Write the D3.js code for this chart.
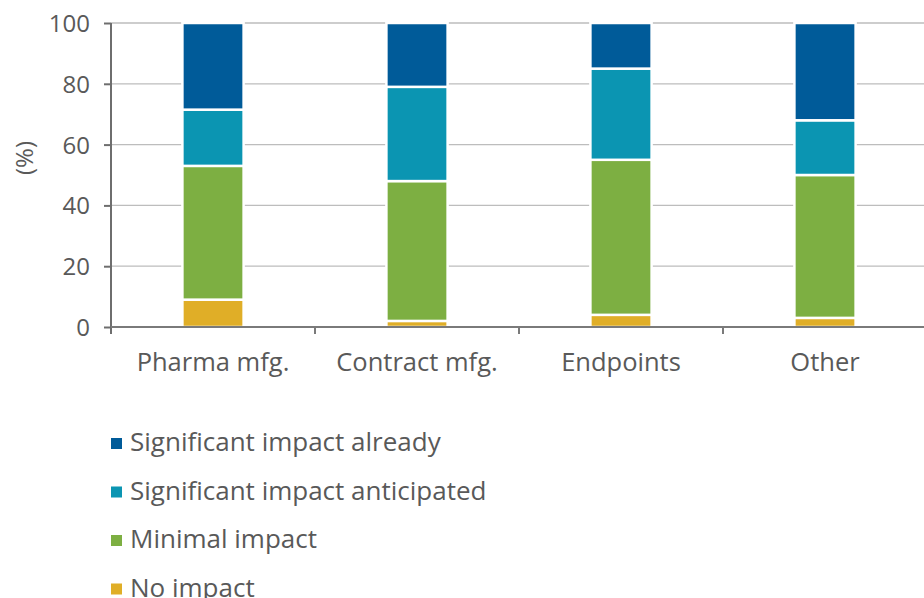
<!DOCTYPE html>
<html><head><meta charset="utf-8">
<script src="https://cdn.jsdelivr.net/npm/d3@7"></script>
<style>body{margin:0;background:#fff}svg{display:block}text{font-family:"Open Sans",sans-serif;fill:#595959}</style>
</head><body>
<svg id="c" width="924" height="598"></svg>
<script>
const categories = ["Pharma mfg.", "Contract mfg.", "Endpoints", "Other"];
const seriesNames = ["No impact", "Minimal impact", "Significant impact anticipated", "Significant impact already"];
const noImpact = [9, 2, 4, 3];
const minimalImpact = [44, 46, 51, 47];
const impactAnticipated = [18.5, 31, 30, 18];
const impactAlready = [28.5, 21, 15, 32];
const colors = ["#e0ae27", "#7daf42", "#0b95b2", "#005b99"];
const yTicks = [0, 20, 40, 60, 80, 100];

const svg = d3.select("#c");
const L = 111, R = 927, T = 23, B = 327;
const x = d3.scaleBand().domain(categories).range([L, R]).paddingInner(0.7).paddingOuter(0.35);
const y = d3.scaleLinear().domain([0, 100]).range([B, T]);

const rows = categories.map((c, i) => ({cat: c, s0: noImpact[i], s1: minimalImpact[i], s2: impactAnticipated[i], s3: impactAlready[i]}));
const stack = d3.stack().keys(["s0", "s1", "s2", "s3"])(rows);

// gridlines
svg.append("g").selectAll("line").data(yTicks.filter(d => d > 0)).join("line")
  .attr("x1", L).attr("x2", R).attr("y1", d => y(d)).attr("y2", d => y(d))
  .attr("stroke", "#bdbdbd").attr("stroke-width", 1.3);

// bars
svg.append("g").selectAll("g").data(stack).join("g").attr("fill", (d, i) => colors[i])
  .selectAll("rect").data(d => d).join("rect")
  .attr("x", d => x(d.data.cat)).attr("width", x.bandwidth())
  .attr("y", d => y(d[1])).attr("height", d => y(d[0]) - y(d[1]))
  .attr("stroke", "#fff").attr("stroke-width", 2.5);

// y axis
const ya = svg.append("g").attr("transform", `translate(${L},0)`)
  .call(d3.axisLeft(y).tickValues(yTicks).tickSize(7).tickPadding(14));
ya.select(".domain").attr("stroke", "#6e6e6e").attr("stroke-width", 2).attr("d", `M0,${T}V${B+7}`);
ya.selectAll(".tick line").attr("stroke", "#6e6e6e").attr("stroke-width", 2);
ya.selectAll(".tick text").style("font-size", "24px").attr("fill", "#595959").attr("dy", "0.35em");

// x axis
const xa = svg.append("g").attr("transform", `translate(0,${B})`);
xa.append("line").attr("x1", L).attr("x2", R).attr("stroke", "#7a7a7a").attr("stroke-width", 2);
const bounds = categories.slice(1).map(c => x(c) - x.step() * 0.35);
xa.selectAll(".tk").data(bounds).join("line").attr("class", "tk")
  .attr("x1", d => d).attr("x2", d => d).attr("y1", 0).attr("y2", 7)
  .attr("stroke", "#7a7a7a").attr("stroke-width", 2);
xa.selectAll("text").data(categories).join("text")
  .attr("x", d => x(d) + x.bandwidth() / 2).attr("y", 44)
  .attr("text-anchor", "middle").style("font-size", "25.5px").text(d => d);

// y label
svg.append("text").attr("transform", "translate(33,158) rotate(-90)")
  .attr("text-anchor", "middle").style("font-size", "24px").text("(%)");

// legend
const legOrder = [3, 2, 1, 0];
const lg = svg.append("g").selectAll("g").data(legOrder).join("g")
  .attr("transform", (d, i) => `translate(111,${442 + i * 48.5})`);
lg.append("rect").attr("x", 0).attr("y", -4).attr("width", 11).attr("height", 11).attr("fill", d => colors[d]);
lg.append("text").attr("x", 19).attr("dy", "0.35em").style("font-size", "26px").text(d => seriesNames[d]);
</script>
</body></html>
